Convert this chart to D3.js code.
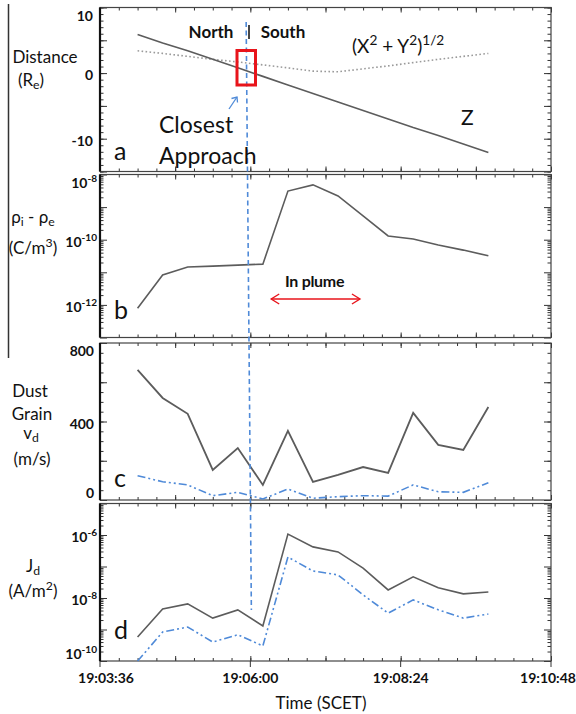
<!DOCTYPE html>
<html>
<head>
<meta charset="utf-8">
<script src="https://cdn.jsdelivr.net/npm/d3@7"></script>
<style>
  body { margin: 0; background: #fff; }
  svg { display: block; font-family: Lato, "Open Sans", sans-serif; }
</style>
</head>
<body>
<svg id="chart" width="576" height="714"></svg>
<script>
// --- data ---
const timeTicks = ["19:03:36", "19:06:00", "19:08:24", "19:10:48"];
const sampleTimes = ["19:04:12", "19:04:36", "19:05:00", "19:05:24", "19:05:48", "19:06:12", "19:06:36",
  "19:07:00", "19:07:24", "19:07:48", "19:08:12", "19:08:36", "19:09:00", "19:09:24", "19:09:48"];

// panel a: distance (Re)
const distZ = [5.9, 4.6, 3.4, 2.1, 0.8, -0.5, -1.8, -3.1, -4.4, -5.7, -7.0, -8.3, -9.5, -10.8, -12.1];
const distXY = [3.4, 3.0, 2.55, 2.1, 1.7, 1.25, 0.8, 0.3, 0.2, 0.65, 1.1, 1.6, 2.1, 2.55, 3.0];
const distTicks = [10, 0, -10];

// panel b: rho_i - rho_e (C/m^3)
const chargeDensity = [7.9e-13, 8.3e-12, 1.45e-11, 1.55e-11, 1.66e-11, 1.78e-11, 3.1e-9, 4.8e-9,
  2.2e-9, 5.4e-10, 1.3e-10, 1.05e-10, 6.9e-11, 4.8e-11, 3.2e-11];
const chargeTicks = [-8, -10, -12];

// panel c: dust grain speed (m/s)
const speedA = [663, 520, 439, 153, 265, 77, 352, 92, 128, 168, 138, 444, 281, 255, 474];
const speedB = [124, 93, 77, 22, 39, 5, 56, 9, 17, 22, 20, 77, 42, 39, 88];
const speedTicks = [800, 400, 0];

// panel d: J_d (A/m^2)
const currentA = [5.8e-10, 4.5e-9, 6.5e-9, 2.3e-9, 4.2e-9, 1.3e-9, 1.07e-6, 4.2e-7, 2.9e-7, 8.9e-8,
  1.8e-8, 4.7e-8, 2.1e-8, 1.35e-8, 1.55e-8];
const currentB = [1.0e-10, 8.3e-10, 1.2e-9, 4.0e-10, 6.8e-10, 3.0e-10, 2.0e-7, 7.2e-8, 5.4e-8, 1.26e-8,
  3.3e-9, 8.7e-9, 4.2e-9, 2.3e-9, 3.1e-9];
const currentTicks = [-6, -8, -10];

// --- layout ---
const svg = d3.select("#chart");
const parseT = d3.timeParse("%H:%M:%S");
const t0 = parseT(timeTicks[0]), t1 = parseT(timeTicks[timeTicks.length - 1]);
const x = d3.scaleTime().domain([t0, t1]).range([100, 551]);
const times = sampleTimes.map(parseT);

const GRAY = "#5c5c5c", BLUE = "#4f8ad8", RED = "#e8141b";

const pa = { top: 7.5, bottom: 171.5 };
const pb = { top: 174.5, bottom: 337.5 };
const pc = { top: 343, bottom: 500 };
const pd = { top: 503.5, bottom: 661 };

pa.y = d3.scaleLinear().domain([-15, 10]).range([pa.bottom, pa.top]);
pb.y = d3.scaleLog().domain([1e-13, 1e-8]).range([pb.bottom, pb.top]);
pc.y = d3.scaleLinear().domain([0, 800]).range([pc.bottom, pc.top]);
pd.y = d3.scaleLog().domain([1e-10, 1e-5]).range([pd.bottom, pd.top]);

const secs = d3.range(0, (t1 - t0) / 1000 + 1, 18);
const xMinor = secs.map(s => d3.timeSecond.offset(t0, s));
const xMajor = secs.filter(s => s % 72 === 0).map(s => d3.timeSecond.offset(t0, s));

function axisNoDomain(g) { g.select(".domain").remove(); }

function frame(p, yMinor, yMajor) {
  const g = svg.append("g").attr("stroke-width", 1);
  // x ticks top & bottom
  [[d3.axisBottom, p.bottom], [d3.axisTop, p.top]].forEach(([ax, yy]) => {
    g.append("g").attr("transform", `translate(0,${yy})`)
      .call(ax(x).tickValues(xMinor).tickSize(-3).tickFormat("")).call(axisNoDomain);
    g.append("g").attr("transform", `translate(0,${yy})`)
      .call(ax(x).tickValues(xMajor).tickSize(-5).tickFormat("")).call(axisNoDomain);
  });
  // y ticks left & right
  [[d3.axisLeft, 100], [d3.axisRight, 551]].forEach(([ax, xx]) => {
    g.append("g").attr("transform", `translate(${xx},0)`)
      .call(ax(p.y).tickValues(yMinor).tickSize(-3.5).tickFormat("")).call(axisNoDomain);
    g.append("g").attr("transform", `translate(${xx},0)`)
      .call(ax(p.y).tickValues(yMajor).tickSize(-7).tickFormat("")).call(axisNoDomain);
  });
  g.selectAll(".tick line").attr("stroke", "#333");
  g.append("rect").attr("x", 100).attr("y", p.top).attr("width", 451).attr("height", p.bottom - p.top)
    .attr("fill", "none").attr("stroke", "#444").attr("stroke-width", 1.2);
  g.append("line").attr("x1", 100).attr("x2", 100).attr("y1", p.top).attr("y2", p.bottom)
    .attr("stroke", "#111").attr("stroke-width", 2.2);
}

function logMinor(sc) {
  return sc.ticks().filter(v => Math.abs(Math.log10(v) - Math.round(Math.log10(v))) > 1e-6);
}
function logMajor(sc) {
  const [a, b] = sc.domain().map(Math.log10);
  return d3.range(Math.round(a), Math.round(b) + 1).map(e => Math.pow(10, e));
}

frame(pa, d3.range(-15, 11, 1), d3.range(-15, 11, 5));
frame(pb, logMinor(pb.y), logMajor(pb.y));
frame(pc, d3.range(0, 801, 50), d3.range(0, 801, 200));
frame(pd, logMinor(pd.y), logMajor(pd.y));

// rich text helper (super/subscripts)
function rich(sel, parts, size) {
  let cur = 0;
  parts.forEach(([txt, sh]) => {
    const off = sh === "sup" ? -0.4 * size : sh === "sub" ? 0.2 * size : 0;
    sel.append("tspan").attr("dy", off - cur).attr("font-size", sh ? size * 0.72 : size).text(txt);
    cur = off;
  });
}

function labelY(p, v) {
  return Math.max(Math.min(p.y(v) + 7, p.bottom - 2), p.top + 13);
}

// y tick labels
const tl = svg.append("g").attr("font-weight", "bold").attr("fill", "#111").attr("text-anchor", "end");
distTicks.forEach(v => tl.append("text").attr("x", 93).attr("y", labelY(pa, v)).attr("font-size", 14).text(v));
speedTicks.forEach(v => tl.append("text").attr("x", 94).attr("y", labelY(pc, v)).attr("font-size", 14).text(v));
[[pb, chargeTicks], [pd, currentTicks]].forEach(([p, ex]) => {
  ex.forEach(e => {
    const t = tl.append("text").attr("x", 97).attr("y", labelY(p, Math.pow(10, e)));
    rich(t, [["10", null], [String(e), "sup"]], 14);
  });
});

// x tick labels
const xl = svg.append("g").attr("font-weight", "bold").attr("font-size", 14).attr("fill", "#111")
  .attr("text-anchor", "middle");
timeTicks.forEach((s, i) => {
  const xx = x(parseT(s));
  xl.append("text").attr("x", i === 0 ? xx + 6 : i === timeTicks.length - 1 ? xx - 3 : xx).attr("y", 683).text(s);
  svg.append("line").attr("x1", xx).attr("x2", xx).attr("y1", pd.bottom).attr("y2", pd.bottom + 6)
    .attr("stroke", "#333");
});
svg.append("text").attr("x", 321).attr("y", 709).attr("text-anchor", "middle").attr("font-size", 17)
  .attr("fill", "#111").text("Time (SCET)");

// series
function series(p, vals, stroke, dash, w) {
  const line = d3.line().x((d, i) => x(times[i])).y(d => p.y(d));
  svg.append("path").datum(vals).attr("d", line).attr("fill", "none")
    .attr("stroke", stroke).attr("stroke-width", w || 1.6).attr("stroke-dasharray", dash || null);
}
series(pa, distXY, "#9a9a9a", "1.6,2.4", 1.6);
series(pa, distZ, GRAY);
series(pb, chargeDensity, GRAY);
series(pc, speedB, BLUE, "8,3,2,3,2,3");
series(pc, speedA, GRAY, null, 1.8);
series(pd, currentB, BLUE, "8,3,2,3,2,3");
series(pd, currentA, GRAY);

// closest approach dashed line
svg.append("line").attr("x1", x(parseT("19:05:56"))).attr("y1", 22)
  .attr("x2", x(parseT("19:06:01"))).attr("y2", 610)
  .attr("stroke", BLUE).attr("stroke-width", 1.6).attr("stroke-dasharray", "5,3.5");

// red box
svg.append("rect").attr("x", 237).attr("y", 50.5).attr("width", 18.5).attr("height", 34.5)
  .attr("fill", "none").attr("stroke", RED).attr("stroke-width", 3);

// annotations
const ann = svg.append("g").attr("fill", "#111");
const ns = ann.append("g").attr("font-weight", "bold").attr("font-size", 17);
ns.append("text").attr("x", 211).attr("y", 38).attr("text-anchor", "middle").text("North");
ns.append("text").attr("x", 283).attr("y", 38).attr("text-anchor", "middle").text("South");
svg.append("line").attr("x1", 249).attr("x2", 249).attr("y1", 25).attr("y2", 39)
  .attr("stroke", "#333").attr("stroke-width", 1.8);

rich(ann.append("text").attr("x", 352).attr("y", 53),
  [["(X", null], ["2", "sup"], [" + Y", null], ["2", "sup"], [")", null], ["1/2", "sup"]], 19);
ann.append("text").attr("x", 461).attr("y", 125).attr("font-size", 21).text("Z");
ann.append("text").attr("x", 159).attr("y", 133).attr("font-size", 23).text("Closest");
ann.append("text").attr("x", 159).attr("y", 164).attr("font-size", 23).text("Approach");

// panel letters
[["a", 160], ["b", 319], ["c", 487], ["d", 639]].forEach(([s, yy]) =>
  ann.append("text").attr("x", 114).attr("y", yy).attr("font-size", 25).text(s));

// blue arrow toward closest approach
const arrow = svg.append("g").attr("stroke", BLUE).attr("stroke-width", 1.3).attr("fill", "none");
arrow.append("line").attr("x1", 229).attr("y1", 109).attr("x2", 237).attr("y2", 97);
arrow.append("path").attr("d", "M231.5,98.5 L237,97 L237.5,102.5");

// in plume
ann.append("text").attr("x", 285).attr("y", 287).attr("font-size", 16).attr("font-weight", "bold")
  .attr("letter-spacing", -0.3).text("In plume");
const plume = svg.append("g").attr("stroke", RED).attr("stroke-width", 1.4).attr("fill", "none");
const px0 = x(parseT("19:06:20")), px1 = x(parseT("19:07:45"));
plume.append("line").attr("x1", px0).attr("x2", px1).attr("y1", 299).attr("y2", 299);
plume.append("path").attr("d", `M${px0 + 8},294 L${px0},299 L${px0 + 8},304`);
plume.append("path").attr("d", `M${px1 - 8},294 L${px1},299 L${px1 - 8},304`);

// y-axis titles
const yt = svg.append("g").attr("fill", "#111").attr("text-anchor", "middle");
yt.append("text").attr("x", 45).attr("y", 63).attr("font-size", 17).text("Distance");
rich(yt.append("text").attr("x", 31).attr("y", 86), [["(R", null], ["e", "sub"], [")", null]], 17);
rich(yt.append("text").attr("x", 33).attr("y", 223), [["ρ", null], ["i", "sub"], [" - ρ", null], ["e", "sub"]], 17);
rich(yt.append("text").attr("x", 33).attr("y", 254), [["(C/m", null], ["3", "sup"], [")", null]], 17);
yt.append("text").attr("x", 30).attr("y", 397).attr("font-size", 17).text("Dust");
yt.append("text").attr("x", 32).attr("y", 420).attr("font-size", 17).text("Grain");
rich(yt.append("text").attr("x", 31).attr("y", 439), [["v", null], ["d", "sub"]], 17);
yt.append("text").attr("x", 32).attr("y", 465).attr("font-size", 17).text("(m/s)");
rich(yt.append("text").attr("x", 33).attr("y", 572), [["J", null], ["d", "sub"]], 17);
rich(yt.append("text").attr("x", 33).attr("y", 597), [["(A/m", null], ["2", "sup"], [")", null]], 17);

// left separator
svg.append("line").attr("x1", 8.5).attr("x2", 8.5).attr("y1", 4).attr("y2", 358)
  .attr("stroke", "#333").attr("stroke-width", 1.5);
</script>
</body>
</html>
